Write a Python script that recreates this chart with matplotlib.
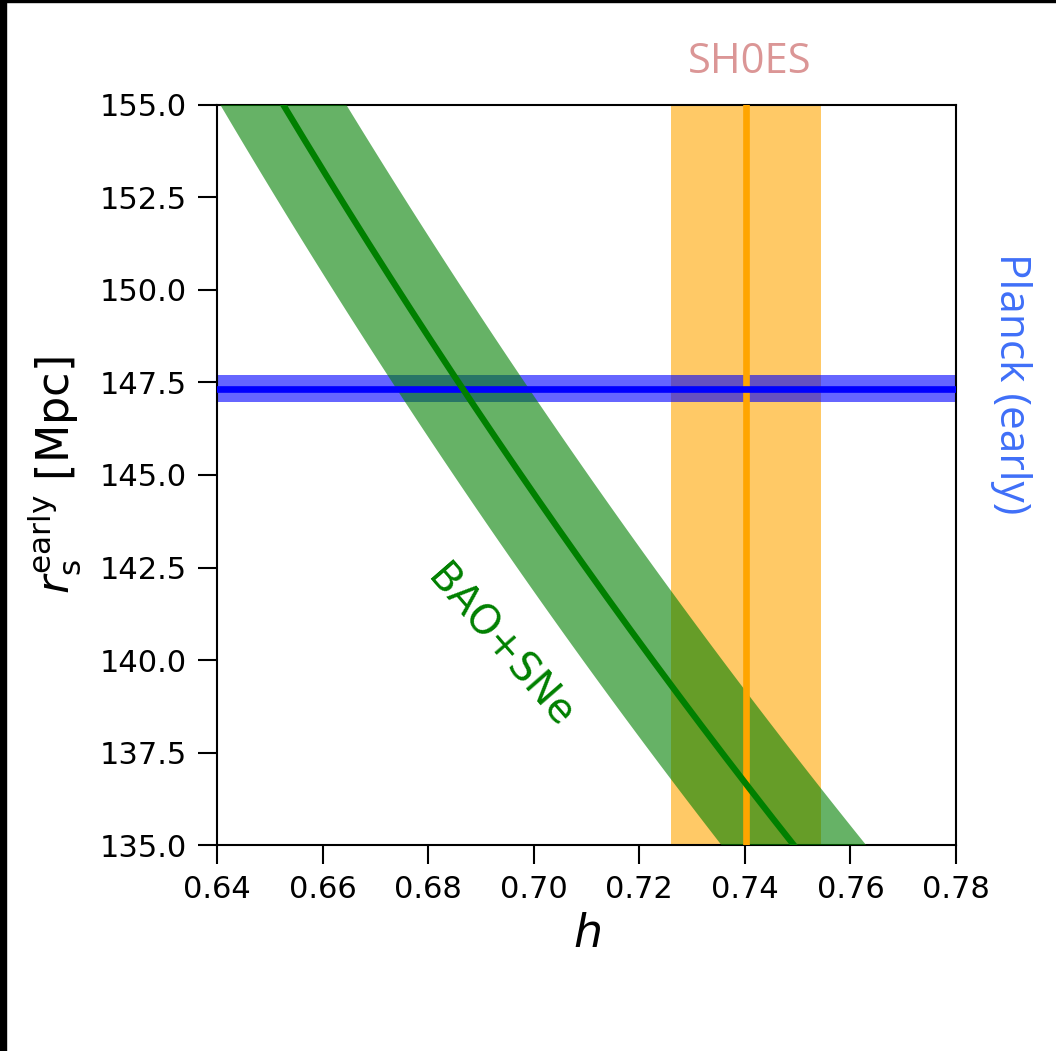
import numpy as np
import matplotlib
matplotlib.use("Agg")
import matplotlib.pyplot as plt
from matplotlib.patches import Rectangle

# axis ranges
h_lim = [0.64, 0.78]
rs_lim = [135.0, 155.0]
h_ticks = [0.64, 0.66, 0.68, 0.70, 0.72, 0.74, 0.76, 0.78]
rs_ticks = [135.0, 137.5, 140.0, 142.5, 145.0, 147.5, 150.0, 152.5, 155.0]

# SH0ES local H0 (in units of 100 km/s/Mpc)
shoes_h = 0.7403
shoes_err = 0.0142

# Planck early-universe sound horizon [Mpc]
planck_rs = 147.33
planck_err = 0.37

# BAO+SNe constrain the product r_s * h [Mpc]
bao_rsh = 101.15
bao_rsh_err = 1.85

h = np.linspace(0.60, 0.80, 400)
rs_mid = bao_rsh / h
rs_lo = (bao_rsh - bao_rsh_err) / h
rs_hi = (bao_rsh + bao_rsh_err) / h

fig = plt.figure(figsize=(10.56, 10.51), dpi=100)
ax = fig.add_axes([0.2055, 0.196, 0.6998, 0.7041])

# bands
ax.axvspan(shoes_h - shoes_err, shoes_h + shoes_err, color="orange", alpha=0.6, lw=0, zorder=1)
ax.axhspan(planck_rs - planck_err, planck_rs + planck_err, color="blue", alpha=0.6, lw=0, zorder=2)
ax.fill_between(h, rs_lo, rs_hi, color="green", alpha=0.6, lw=0, zorder=3)

# central values
ax.axvline(shoes_h, color="orange", lw=4.8, zorder=4)
ax.axhline(planck_rs, color="blue", lw=4.8, zorder=5)
ax.plot(h, rs_mid, color="green", lw=4.5, zorder=6)

ax.set_xlim(h_lim)
ax.set_ylim(rs_lim)
ax.set_xticks(h_ticks)
ax.set_yticks(rs_ticks)
ax.set_xticklabels([f"{t:.2f}" for t in h_ticks])
ax.set_yticklabels([f"{t:.1f}" for t in rs_ticks])
ax.tick_params(labelsize=22, length=13.5, width=1.5, pad=8)
for s in ax.spines.values():
    s.set_linewidth(1.5)

ax.set_xlabel(r"$h$", fontsize=33, labelpad=6)
ax.set_ylabel(r"$r_{\rm s}^{\rm early}$ [Mpc]", fontsize=32, labelpad=12)

# labels for each probe
ax.text(shoes_h + 0.0006, 156.15, "SH0ES", color="#db9696", fontsize=30,
        family="Open Sans", ha="center", va="center", clip_on=False)
ax.text(0.7905, planck_rs + 0.15, "Planck (early)", color="#3f6ff8", fontsize=30.5,
        family="Open Sans", rotation=-90, ha="center", va="center", clip_on=False)
ax.text(0.6935, 140.35, "BAO+SNe", color="green", fontsize=29,
        rotation=-49, ha="center", va="center")

# black edge strips around the canvas
fig.patches.append(Rectangle((0, 0), 6 / 1056, 1, transform=fig.transFigure,
                             color="black", zorder=10))
fig.patches.append(Rectangle((0, 1 - 2 / 1051), 1, 2 / 1051, transform=fig.transFigure,
                             color="black", zorder=10))

fig.savefig("out.png", dpi=100)
